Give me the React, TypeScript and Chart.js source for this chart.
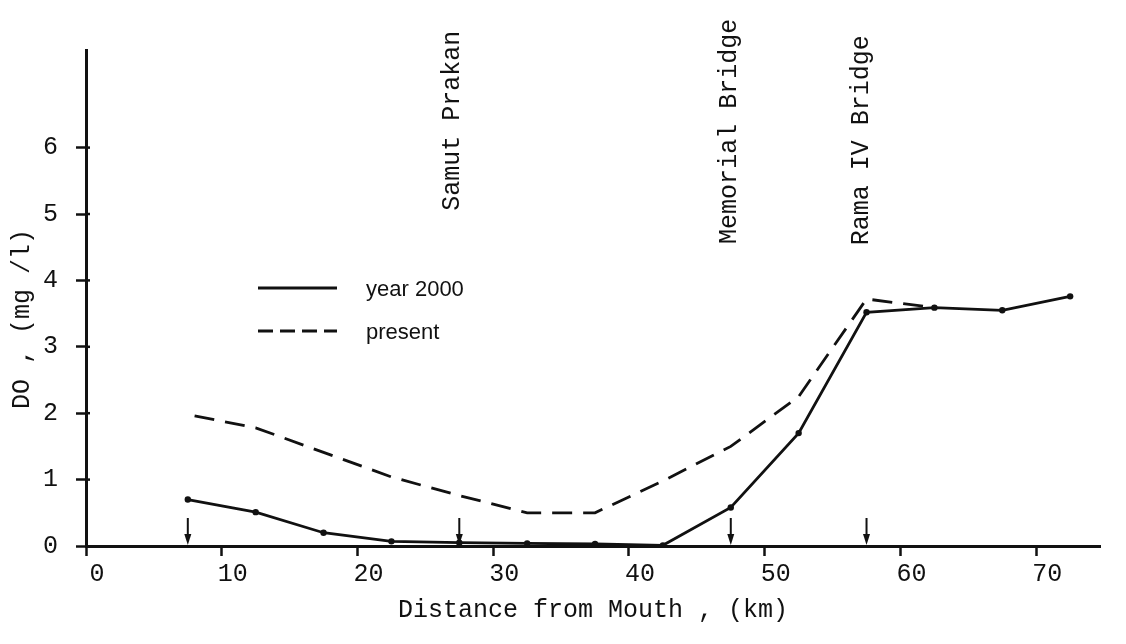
import { useEffect, useRef } from "react";
import { Chart, registerables } from "chart.js";

Chart.register(...registerables);

// ---- data ----
const distanceKm = [7.5, 12.5, 17.5, 22.5, 27.5, 32.5, 37.5, 42.5, 47.5, 52.5, 57.5, 62.5, 67.5, 72.5];
const year2000DO = [0.7, 0.51, 0.2, 0.07, 0.05, 0.04, 0.03, 0.01, 0.58, 1.7, 3.52, 3.59, 3.55, 3.76];
const presentKm = [8, 12.5, 17.5, 22.5, 27.5, 32.5, 37.5, 42.5, 47.5, 52.5, 57.5, 62.5];
const presentDO = [1.96, 1.78, 1.41, 1.04, 0.76, 0.5, 0.5, 0.98, 1.5, 2.25, 3.72, 3.59];
const seriesNames = ["year 2000", "present"];
const xTickValues = [0, 10, 20, 30, 40, 50, 60, 70];
const yTickValues = [0, 1, 2, 3, 4, 5, 6];
const landmarkNames = ["Samut Prakan", "Memorial Bridge", "Rama IV Bridge"];
const landmarkKm = [27.0, 47.4, 57.1];
const arrowKm = [7.5, 27.5, 47.5, 57.5];
const xTitle = "Distance from Mouth , (km)";
const yTitle = "DO , (mg /l)";

const MONO = "'Liberation Mono', 'DejaVu Sans Mono', monospace";
const SANS = "'Liberation Sans', Arial, sans-serif";
const INK = "#111";

const overlayPlugin = {
  id: "overlay",
  afterDraw(chart: any) {
    const { ctx, scales } = chart;
    const xs = scales.x;
    const ys = scales.y;
    const axisY = ys.getPixelForValue(0);
    ctx.save();
    ctx.fillStyle = INK;
    ctx.strokeStyle = INK;

    // arrows on the axis
    arrowKm.forEach((km) => {
      const x = xs.getPixelForValue(km);
      ctx.lineWidth = 2;
      ctx.beginPath();
      ctx.moveTo(x, axisY - 28);
      ctx.lineTo(x, axisY - 8);
      ctx.stroke();
      ctx.beginPath();
      ctx.moveTo(x - 3.5, axisY - 12);
      ctx.lineTo(x + 3.5, axisY - 12);
      ctx.lineTo(x, axisY - 1);
      ctx.closePath();
      ctx.fill();
    });

    // y tick marks crossing slightly into the plot
    ctx.lineWidth = 2.5;
    yTickValues.forEach((v) => {
      if (v === 0) return;
      const y = ys.getPixelForValue(v);
      ctx.beginPath();
      ctx.moveTo(xs.left, y);
      ctx.lineTo(xs.left + 4, y);
      ctx.stroke();
    });

    // vertical landmark labels
    const labelBottoms = [5.05, 4.55, 4.53];
    ctx.font = `25px ${MONO}`;
    ctx.textAlign = "left";
    ctx.textBaseline = "middle";
    landmarkNames.forEach((name, i) => {
      const x = xs.getPixelForValue(landmarkKm[i]);
      const y = ys.getPixelForValue(labelBottoms[i]);
      ctx.save();
      ctx.translate(x, y);
      ctx.rotate(-Math.PI / 2);
      ctx.fillText(name, 0, 0);
      ctx.restore();
    });

    // y axis title
    ctx.save();
    ctx.translate(22, 319);
    ctx.rotate(-Math.PI / 2);
    ctx.textAlign = "center";
    ctx.font = `25px ${MONO}`;
    ctx.fillText(yTitle, 0, 0);
    ctx.restore();

    // legend
    const lx0 = 258, lx1 = 337, ly = [288, 331];
    ctx.lineWidth = 2.8;
    ctx.lineCap = "butt";
    ctx.setLineDash([]);
    ctx.beginPath();
    ctx.moveTo(lx0, ly[0]);
    ctx.lineTo(lx1, ly[0]);
    ctx.stroke();
    ctx.setLineDash([15, 7]);
    ctx.beginPath();
    ctx.moveTo(lx0, ly[1]);
    ctx.lineTo(lx1, ly[1]);
    ctx.stroke();
    ctx.setLineDash([]);
    ctx.font = `22px ${SANS}`;
    ctx.textAlign = "left";
    ctx.textBaseline = "middle";
    ctx.fillText(seriesNames[0], 366, ly[0] + 2);
    ctx.fillText(seriesNames[1], 366, ly[1] + 2);
    ctx.restore();
  },
};

export default function App() {
  const ref = useRef<HTMLCanvasElement | null>(null);
  useEffect(() => {
    document.body.style.margin = "0";
    const canvas = ref.current!;
    const chart = new Chart(canvas, {
      type: "line",
      data: {
        datasets: [
          {
            label: seriesNames[0],
            data: distanceKm.map((x, i) => ({ x, y: year2000DO[i] })),
            borderColor: INK,
            backgroundColor: INK,
            borderWidth: 2.8,
            pointRadius: 3.2,
            pointBackgroundColor: INK,
            pointBorderWidth: 0,
            tension: 0,
          },
          {
            label: seriesNames[1],
            data: presentKm.map((x, i) => ({ x, y: presentDO[i] })),
            borderColor: INK,
            borderWidth: 2.8,
            borderDash: [20, 11],
            pointRadius: 0,
            tension: 0,
          },
        ],
      },
      options: {
        animation: false,
        responsive: false,
        devicePixelRatio: 1,
        layout: { padding: { left: 0, right: 26, top: 50, bottom: 0 } },
        plugins: { legend: { display: false }, tooltip: { enabled: false } },
        scales: {
          x: {
            type: "linear",
            min: 0,
            max: 74.7,
            afterFit: (s: any) => {
              s.height = 98;
            },
            afterBuildTicks: (s: any) => {
              s.ticks = xTickValues.map((v) => ({ value: v }));
            },
            ticks: {
              color: INK,
              font: { family: MONO, size: 25 },
              padding: 3,
              labelOffset: 11,
              maxRotation: 0,
            },
            grid: {
              drawOnChartArea: false,
              drawTicks: true,
              tickLength: 10,
              tickColor: INK,
              tickWidth: 2.5,
            },
            border: { display: true, color: INK, width: 3 },
            title: {
              display: true,
              text: xTitle,
              color: INK,
              font: { family: MONO, size: 25 },
              padding: { top: 0, bottom: 19 },
            },
          },
          y: {
            type: "linear",
            min: 0,
            max: 7.47,
            afterFit: (s: any) => {
              s.width = 86;
            },
            afterBuildTicks: (s: any) => {
              s.ticks = yTickValues.map((v) => ({ value: v }));
            },
            ticks: {
              color: INK,
              font: { family: MONO, size: 25 },
              padding: 18,
            },
            grid: {
              drawOnChartArea: false,
              drawTicks: true,
              tickLength: 10,
              tickColor: INK,
              tickWidth: 2.5,
            },
            border: { display: true, color: INK, width: 3 },
          },
        },
      },
      plugins: [overlayPlugin],
    });
    return () => chart.destroy();
  }, []);
  return (
    <div style={{ position: "absolute", left: 0, top: 0, width: 1126, height: 644, background: "#fff" }}>
      <canvas ref={ref} width={1126} height={644} />
    </div>
  );
}
